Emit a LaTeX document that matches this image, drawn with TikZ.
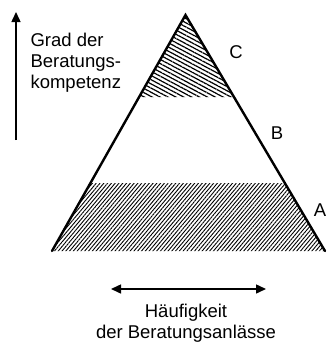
\documentclass[tikz,border=0pt]{standalone}
\usepackage{fontspec}
\setmainfont{Liberation Sans}
\usetikzlibrary{arrows.meta,patterns.meta,calc}

\tikzset{
  side/.style={line width=2.4pt,line cap=round},
  axisarrow/.style={line width=1.5pt,-{Triangle[length=10pt,width=9pt]}},
  lbl/.style={font=\fontsize{18.5}{21}\selectfont},
}

\begin{document}
\begin{tikzpicture}[x=1pt,y=-1pt]
\useasboundingbox (0,0) rectangle (327,343);
% corners of the pyramid
\coordinate (top) at (185.5,15);
\coordinate (bl) at (52,251);
\coordinate (br) at (325,251);
% band limits on the two sides
\coordinate (cl) at ($(bl)!0.6525!(top)$);
\coordinate (cr) at ($(br)!0.6525!(top)$);
\coordinate (al) at ($(bl)!0.288!(top)$);
\coordinate (ar) at ($(br)!0.288!(top)$);
% hatched bands: C on top, A at the base
\fill[pattern={Lines[angle=-28,distance=3.7pt,line width=1.2pt]}] (top) -- (cl) -- (cr) -- cycle;
\fill[pattern={Lines[angle=50,distance=2.9pt,line width=0.9pt]}] (al) -- (bl) -- (br) -- (ar) -- cycle;
\draw[side] (bl) -- (top) -- (br);
% band labels
\node[lbl] (labC) at (236,52) {C};
\node[lbl] (labB) at (277,133) {B};
\node[lbl] (labA) at (320,210) {A};
% vertical axis
\coordinate (vfoot) at (16,140);
\coordinate (vtip) at (16,12);
\draw[axisarrow] (vfoot) -- (vtip);
\node[lbl,anchor=west,align=left] (kompetenz) at (27,63) {Grad der\\Beratungs-\\kompetenz};
% horizontal axis
\coordinate (hleft) at (111,289);
\coordinate (hright) at (266,289);
\draw[axisarrow,{Triangle[length=10pt,width=9pt]}-{Triangle[length=10pt,width=9pt]}] (hleft) -- (hright);
\node[lbl,align=center] (haeufigkeit) at (186,323.5) {Häufigkeit\\der Beratungsanlässe};
\end{tikzpicture}
\end{document}
